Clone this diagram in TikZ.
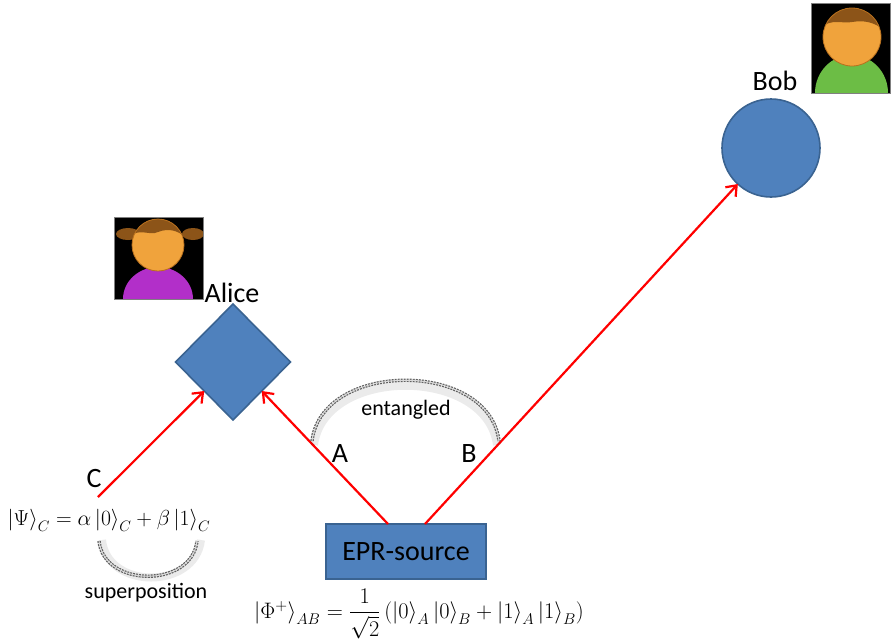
\documentclass[tikz,border=0pt]{standalone}
\usepackage{amsmath}
\usepackage{fontspec}
\setmainfont{Carlito}
\usetikzlibrary{arrows.meta,shapes.geometric,calc}
\definecolor{shapefill}{HTML}{4F81BD}
\definecolor{shapeedge}{HTML}{3A6391}
\definecolor{beam}{HTML}{FF0000}
\definecolor{skin}{HTML}{F0A33C}
\definecolor{skinedge}{HTML}{B8701E}
\definecolor{hair}{HTML}{8C5418}
\definecolor{shirtA}{HTML}{B22FC9}
\definecolor{shirtB}{HTML}{6CBD45}
\begin{document}
\begin{tikzpicture}[x=1pt,y=-1pt,
  blueshape/.style={fill=shapefill,draw=shapeedge,line width=1.6pt,inner sep=0pt,outer sep=0pt},
  beamline/.style={draw=beam,line width=2.2pt,-{Straight Barb[length=9pt,width=14pt,line width=2.2pt]}},
  lbl/.style={font=\fontsize{28}{30}\selectfont,inner sep=0pt},
  small/.style={font=\fontsize{22}{24}\selectfont,inner sep=0pt},
  mathlbl/.style={font=\fontsize{20.74}{24}\selectfont,inner sep=0pt},
  linkarc/.style={draw=gray!75!black,line width=3.4pt,dash pattern=on 2pt off 1pt},
  linkinner/.style={draw=gray!30,line width=1pt},
  linkshadow/.style={draw=black,line width=8pt,opacity=0.08},
]
\useasboundingbox (0,0) rectangle (894,641);

% --- nodes ---
\node[blueshape,diamond,minimum width=115pt,minimum height=116pt] (alice) at (233,362) {};
\node[blueshape,circle,minimum size=98pt] (bob) at (771,148) {};
\node[blueshape,rectangle,minimum width=160pt,minimum height=55pt,
      font=\fontsize{28}{30}\selectfont] (epr) at (406,551.5) {EPR-source};

\node[lbl] (alicelbl) at (232,293) {Alice};
\node[lbl] (boblbl) at (775,81) {Bob};
\node[lbl] (lblA) at (340,454) {A};
\node[lbl] (lblB) at (469,454) {B};
\node[lbl] (lblC) at (94,478) {C};
\node[small] (ent) at (406,410) {entangled};
\node[small] (sup) at (146,593) {superposition};
\node[mathlbl,scale=1.047] (psi) at (109,520)
  {$\left|\Psi\right\rangle_C=\alpha\left|0\right\rangle_C+\beta\left|1\right\rangle_C$};
\node[mathlbl,scale=1.078] (phi) at (419,614)
  {$\left|\Phi^+\right\rangle_{AB}=\dfrac{1}{\sqrt{2}}\left(\left|0\right\rangle_A\left|0\right\rangle_B+\left|1\right\rangle_A\left|1\right\rangle_B\right)$};

% --- beams ---
\coordinate (srcA) at ($(epr.north)+(-18,0)$);
\coordinate (srcB) at ($(epr.north)+(19,0)$);
\coordinate (srcC) at (98,497);
\draw[beamline] (srcA) -- (alice.south east);
\draw[beamline] (srcB) -- (bob);
\draw[beamline] (srcC) -- (alice.south west);

% --- entanglement and superposition links ---
\draw[linkshadow] (314,445) .. controls (324,366) and (487,366) .. (497,445);
\draw[linkarc] (312,441) .. controls (322,360) and (489,360) .. (499,441);
\draw[linkinner] (312,441) .. controls (322,360) and (489,360) .. (499,441);
\draw[linkshadow] (102,540) .. controls (107,590) and (195,590) .. (201,540);
\draw[linkarc] (99,541) .. controls (104,588) and (192,588) .. (197,541);
\draw[linkinner] (99,541) .. controls (104,588) and (192,588) .. (197,541);

% --- Alice avatar ---
\begin{scope}
  \fill[black] (114,217) rectangle (203,299);
  \clip (114,217) rectangle (203,299);
  \fill[shirtA] (158,299) ellipse[x radius=35,y radius=32];
  \fill[hair] (128,234) ellipse[x radius=12,y radius=6];
  \fill[hair] (193,234) ellipse[x radius=11,y radius=6];
  \fill[skin] (158,245) circle[radius=26];
  \begin{scope}
    \clip (158,245) circle[radius=26];
    \fill[hair] (130,236) .. controls (140,228) and (150,236) .. (158,232)
                .. controls (168,228) and (178,230) .. (186,238) -- (186,215) -- (130,215) -- cycle;
  \end{scope}
  \draw[skinedge,line width=0.8pt] (158,245) circle[radius=26];
\end{scope}
\draw[gray,line width=0.6pt] (114,217) rectangle (203,299);

% --- Bob avatar ---
\begin{scope}
  \fill[black] (811,3) rectangle (890,93);
  \clip (811,3) rectangle (890,93);
  \fill[shirtB] (851.5,93) ellipse[x radius=36.5,y radius=38];
  \fill[skin] (852,37) circle[radius=29];
  \begin{scope}
    \clip (852,37) circle[radius=29];
    \fill[hair] (820,28) .. controls (832,18) and (842,24) .. (852,22)
                .. controls (864,20) and (874,22) .. (884,30) -- (884,3) -- (820,3) -- cycle;
  \end{scope}
  \draw[skinedge,line width=0.8pt] (852,37) circle[radius=29];
\end{scope}
\draw[gray,line width=0.6pt] (811,3) rectangle (890,93);
\end{tikzpicture}
\end{document}
